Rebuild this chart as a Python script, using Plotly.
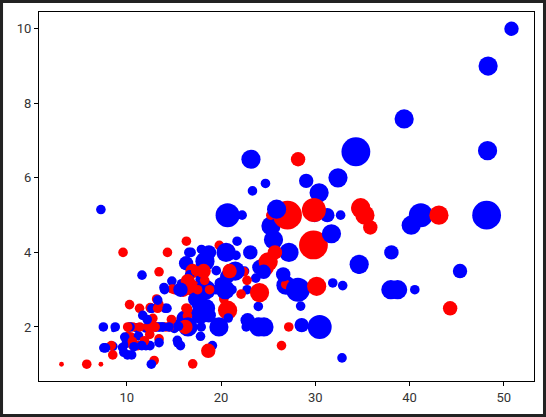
import plotly.graph_objects as go

# tips dataset: total_bill, tip, sex, party size
total_bill = [16.99,10.34,21.01,23.68,24.59,25.29,8.77,26.88,15.04,14.78,10.27,35.26,15.42,18.43,14.83,21.58,10.33,16.29,16.97,20.65,
17.92,20.29,15.77,39.42,19.82,17.81,13.37,12.69,21.7,19.65,9.55,18.35,15.06,20.69,17.78,24.06,16.31,16.93,18.69,31.27,
16.04,17.46,13.94,9.68,30.4,18.29,22.23,32.4,28.55,18.04,12.54,10.29,34.81,9.94,25.56,19.49,38.01,26.41,11.24,48.27,
20.29,13.81,11.02,18.29,17.59,20.08,16.45,3.07,20.23,15.01,12.02,17.07,26.86,25.28,14.73,10.51,17.92,27.2,22.76,17.29,
19.44,16.66,10.07,32.68,15.98,34.83,13.03,18.28,24.71,21.16,28.97,22.49,5.75,16.32,22.75,40.17,27.28,12.03,21.01,12.46,
11.35,15.38,44.3,22.42,20.92,15.36,20.49,25.21,18.24,14.31,14.0,7.25,38.07,23.95,25.71,17.31,29.93,10.65,12.43,24.08,
11.69,13.42,14.26,15.95,12.48,29.8,8.52,14.52,11.38,22.82,19.08,20.27,11.17,12.26,18.26,8.51,10.33,14.15,16.0,13.16,
17.47,34.3,41.19,27.05,16.43,8.35,18.64,11.87,9.78,7.51,14.07,13.13,17.26,24.55,19.77,29.85,48.17,25.0,13.39,16.49,
21.5,12.66,16.21,13.81,17.51,24.52,20.76,31.71,10.59,10.63,50.81,15.81,7.25,31.85,16.82,32.9,17.89,14.48,9.6,34.63,
34.65,23.33,45.35,23.17,40.55,20.69,20.9,30.46,18.15,23.1,15.69,19.81,28.44,15.48,16.58,7.56,10.34,43.11,13.0,13.51,
18.71,12.74,13.0,16.4,20.53,16.47,26.59,38.73,24.27,12.76,30.06,25.89,48.33,13.27,28.17,12.9,28.15,11.59,7.74,30.14,
12.16,13.42,8.58,15.98,13.42,16.27,10.09,20.45,13.28,22.12,24.01,15.69,11.61,10.77,15.53,10.07,12.6,32.83,35.83,29.03,
27.18,22.67,17.82,18.78]

tip = [1.01,1.66,3.5,3.31,3.61,4.71,2.0,3.12,1.96,3.23,1.71,5.0,1.57,3.0,3.02,3.92,1.67,3.71,3.5,3.35,
4.08,2.75,2.23,7.58,3.18,2.34,2.0,2.0,4.3,3.0,1.45,2.5,3.0,2.45,3.27,3.6,2.0,3.07,2.31,5.0,
2.24,2.54,3.06,1.32,5.6,3.0,5.0,6.0,2.05,3.0,2.5,2.6,5.2,1.56,4.34,3.51,3.0,1.5,1.76,6.73,
3.21,2.0,1.98,3.76,2.64,3.15,2.47,1.0,2.01,2.09,1.97,3.0,3.14,5.0,2.2,1.25,3.08,4.0,3.0,2.71,
3.0,3.4,1.83,5.0,2.03,5.17,2.0,4.0,5.85,3.0,3.0,3.5,1.0,4.3,3.25,4.73,4.0,1.5,3.0,1.5,
2.5,3.0,2.5,3.48,4.08,1.64,4.06,4.29,3.76,4.0,3.0,1.0,4.0,2.55,4.0,3.5,5.07,1.5,1.8,2.92,
2.31,1.68,2.5,2.0,2.52,4.2,1.48,2.0,2.0,2.18,1.5,2.83,1.5,2.0,3.25,1.25,2.0,2.0,2.0,2.75,
3.5,6.7,5.0,5.0,2.3,1.5,1.36,1.63,1.73,2.0,2.5,2.0,2.74,2.0,2.0,5.14,5.0,3.75,2.61,2.0,
3.5,2.5,2.0,2.0,3.0,3.48,2.24,4.5,1.61,2.0,10.0,3.16,5.15,3.18,4.0,3.11,2.0,2.0,4.0,3.55,
3.68,5.65,3.5,6.5,3.0,5.0,3.5,2.0,3.5,4.0,1.5,4.19,2.56,2.02,4.0,1.44,2.0,5.0,2.0,2.0,
4.0,2.01,2.0,2.5,4.0,3.23,3.41,3.0,2.03,2.23,2.0,5.16,9.0,2.5,6.5,1.1,3.0,1.5,1.44,3.09,
2.2,3.48,1.92,3.0,1.58,2.5,2.0,3.0,2.72,2.88,2.0,3.0,3.39,1.47,3.0,1.25,1.0,1.17,4.67,5.92,
2.0,2.0,1.75,3.0]

sex = ["F","M","M","M","F","M","M","M","M","M","M","F","M","M","F","M","F","M","F","M",
"M","F","F","M","M","M","M","M","M","F","M","M","F","F","M","M","M","F","M","M",
"M","M","M","M","M","M","M","M","M","M","M","F","F","M","M","M","M","F","M","M",
"M","M","M","M","M","M","F","F","M","M","M","F","F","F","F","M","M","M","M","M",
"M","M","F","M","M","F","M","M","M","M","M","M","F","F","F","M","M","M","M","M",
"F","F","F","F","F","M","M","M","M","F","M","F","M","M","F","F","M","F","F","F",
"M","F","M","M","F","F","M","F","F","M","M","F","F","F","F","F","F","F","M","F",
"F","M","M","F","F","F","F","F","M","M","M","M","M","M","M","F","M","F","F","M",
"M","M","F","M","F","M","M","M","F","F","M","M","M","M","M","M","M","M","F","M",
"M","M","M","M","M","M","F","M","F","M","M","F","M","M","M","M","M","F","F","M",
"M","F","F","F","M","F","M","M","M","F","M","M","M","F","F","F","M","M","M","F",
"M","F","M","F","M","F","F","M","M","F","M","M","M","M","M","M","M","M","F","M",
"F","M","M","F"]

party_size = [2,3,3,2,4,4,2,4,2,2,2,4,2,4,2,2,3,3,3,3,
2,2,2,4,2,4,2,2,2,2,2,4,2,4,2,3,3,3,3,3,
3,2,2,2,4,2,2,4,3,2,2,2,4,2,4,2,4,2,2,4,
2,2,2,4,3,3,2,1,2,2,2,3,2,2,2,2,2,4,2,2,
2,2,1,2,2,4,2,2,2,2,2,2,2,2,2,4,2,2,2,2,
2,2,3,2,2,2,2,2,2,2,2,1,3,2,3,2,4,2,2,4,
2,2,2,2,2,6,2,2,2,3,2,2,2,2,2,2,2,2,2,2,
2,6,5,6,2,2,3,2,2,2,2,2,3,4,4,5,6,4,2,4,
4,2,3,2,2,3,2,4,2,2,3,2,2,2,2,2,2,2,2,2,
4,2,3,4,2,5,3,5,3,3,2,2,2,2,2,2,2,4,2,2,
3,2,2,2,4,3,3,4,2,2,3,4,4,2,3,2,5,2,2,4,
2,2,1,3,2,2,2,4,2,2,4,3,2,2,2,2,2,2,3,3,
2,2,2,2]

sex_colors = {"M": "#0000ff", "F": "#ff0000"}
px_per_person = 4.8

fig = go.Figure(go.Scatter(
    x=total_bill, y=tip, mode="markers",
    marker=dict(
        color=[sex_colors[s] for s in sex],
        size=[n * px_per_person for n in party_size],
        sizemode="diameter",
        line=dict(width=0),
        opacity=1,
    ),
    showlegend=False,
))

axis_common = dict(
    showgrid=False, zeroline=False,
    showline=True, mirror=True, linecolor="black", linewidth=1,
    ticks="outside", ticklen=4, tickcolor="black", tickwidth=1,
    tickfont=dict(family="Roboto, sans-serif", size=13, color="#333333"),
)

fig.update_xaxes(range=[0.683, 53.197], tickvals=[10, 20, 30, 40, 50], **axis_common)
fig.update_yaxes(range=[0.55, 10.45], tickvals=[2, 4, 6, 8, 10], **axis_common)

fig.update_layout(
    width=546, height=417,
    margin=dict(l=38.5, r=12, t=12, b=36, pad=0),
    paper_bgcolor="#222222",
    plot_bgcolor="white",
    shapes=[dict(type="rect", xref="paper", yref="paper", layer="below",
                 x0=-36/495.5, x1=1+9/495.5, y0=-33/369, y1=1+9/369,
                 fillcolor="white", line=dict(width=0))],
)

fig.write_html("out.html",
               config={"displayModeBar": False},
               post_script="document.body.style.margin='0';document.body.style.overflow='hidden';")
